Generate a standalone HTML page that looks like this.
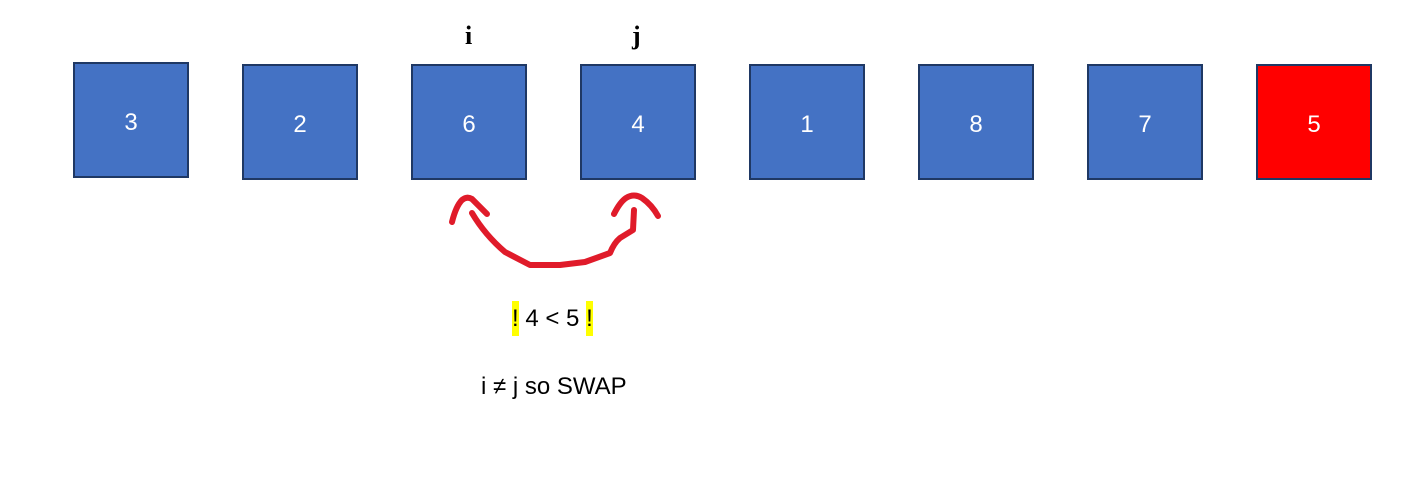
<!DOCTYPE html>
<html><head><meta charset="utf-8"><style>
body{margin:0;width:1423px;height:492px;background:#fff;position:relative;overflow:hidden;font-family:"Liberation Sans","DejaVu Sans",sans-serif}
.box{position:absolute;width:116px;height:116px;background:#4472C4;border:2px solid #1F3864;color:#fff;font-size:24px;display:flex;align-items:center;justify-content:center;box-sizing:border-box;padding-top:5px}
.lbl{position:absolute;font-family:"Liberation Serif",serif;font-weight:bold;font-size:26px;top:21px}
.t{position:absolute;font-size:24px;color:#000;white-space:nowrap}
.hl{background:#FFFF00;padding:4px 0}
</style></head><body>
<div class="box" style="left:73px;top:62px">3</div>
<div class="box" style="left:242px;top:64px">2</div>
<div class="box" style="left:411px;top:64px">6</div>
<div class="box" style="left:580px;top:64px">4</div>
<div class="box" style="left:749px;top:64px">1</div>
<div class="box" style="left:918px;top:64px">8</div>
<div class="box" style="left:1087px;top:64px">7</div>
<div class="box" style="left:1256px;top:64px;background:#FF0000">5</div>
<div class="lbl" style="left:465px">i</div>
<div class="lbl" style="left:632px">j</div>
<svg width="1423" height="492" style="position:absolute;left:0;top:0" fill="none" stroke="#E01B2A" stroke-width="6" stroke-linecap="round" stroke-linejoin="round">
<path d="M452 222 Q456 206 462 200 Q467 196 472 199 L487 214"/>
<path d="M472 213 Q485 235 505 252 L530 265 L560 265 L585 262 L610 253 Q614 243 620 238 L633 230 L634 210"/>
<path d="M614 214 Q620 202 626 198 Q634 193 642 198 Q652 205 658 216"/>
</svg>
<div class="t" style="left:512px;top:305px"><span class="hl">!</span> 4 &lt; 5 <span class="hl">!</span></div>
<div class="t" style="left:481px;top:373px">i ≠ j so SWAP</div>
</body></html>
